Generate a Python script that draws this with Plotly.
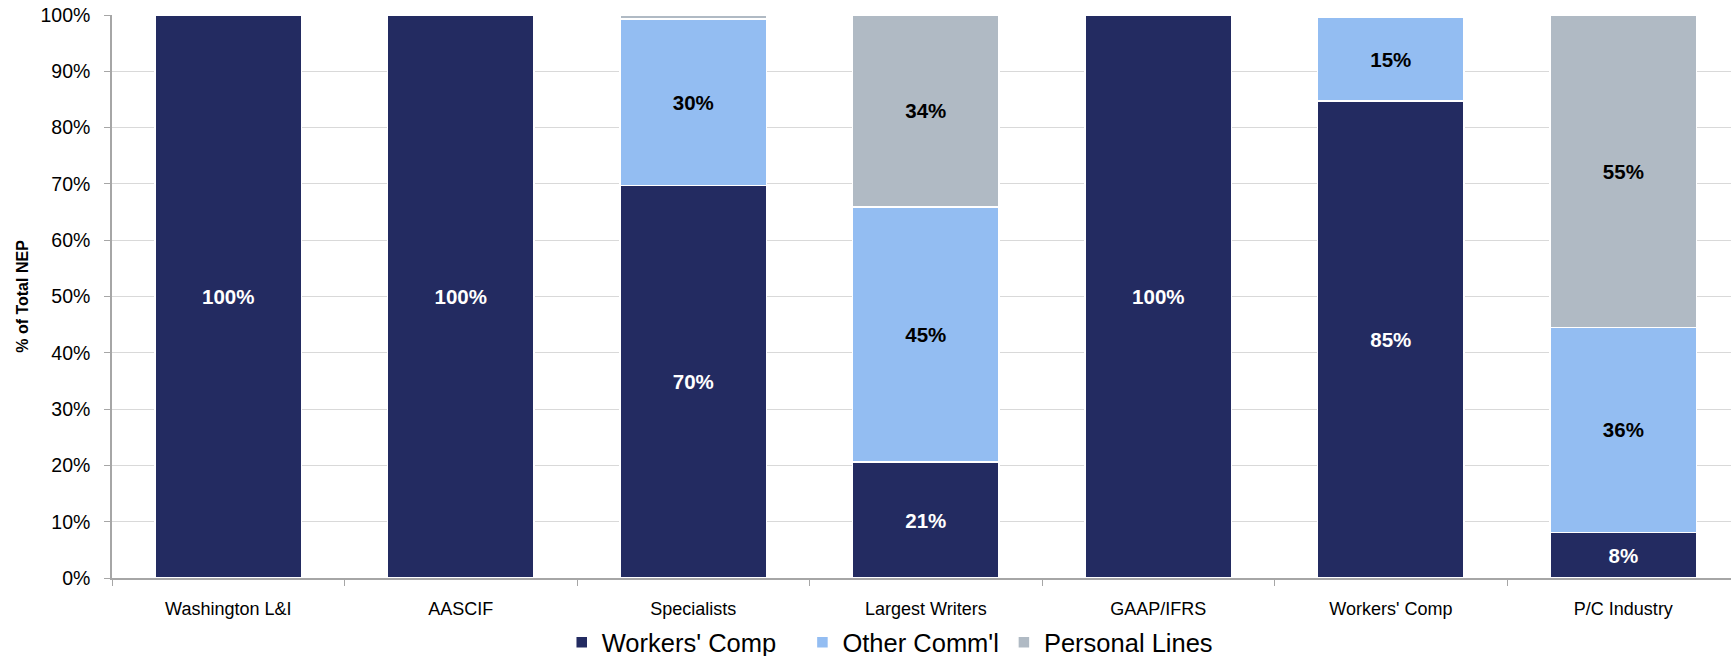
import plotly.graph_objects as go

# Share of total net earned premium by line of business
categories = ["Washington L&I", "AASCIF", "Specialists", "Largest Writers",
              "GAAP/IFRS", "Workers' Comp", "P/C Industry"]
workers_comp = [100.0, 100.0, 69.7, 20.6, 100.0, 84.7, 8.1]
other_comml = [0.0, 0.0, 29.6, 45.3, 0.0, 14.9, 36.4]
personal_lines = [0.0, 0.0, 0.7, 34.1, 0.0, 0.0, 55.4]
y_ticks = [0, 10, 20, 30, 40, 50, 60, 70, 80, 90, 100]

series = [
    ("Workers' Comp", workers_comp, "#232B61", "white"),
    ("Other Comm'l", other_comml, "#93BDF2", "black"),
    ("Personal Lines", personal_lines, "#B0BAC4", "black"),
]

FONT = "Liberation Sans, Arial, sans-serif"
NBSP = "\u00a0"
# extra spacing after each legend entry
legend_pad = [3, 0, 0]

fig = go.Figure()
for (name, vals, color, txtcolor), pad in zip(series, legend_pad):
    fig.add_trace(go.Bar(
        name=name + NBSP * pad,
        x=categories,
        y=vals,
        marker=dict(color=color, line=dict(color="white", width=1.5)),
        text=[f"{v:.0f}%" if v >= 5 else "" for v in vals],
        textposition="inside",
        insidetextanchor="middle",
        textangle=0,
        constraintext="none",
        textfont=dict(family=FONT, size=20.5, color=txtcolor, weight="bold"),
        hoverinfo="skip",
    ))

fig.update_layout(
    barmode="stack",
    bargap=0.37,
    width=1731,
    height=656,
    margin=dict(l=112, r=0, t=15, b=78, autoexpand=False),
    plot_bgcolor="white",
    paper_bgcolor="white",
    font=dict(family=FONT, color="black"),
    showlegend=True,
    legend=dict(
        orientation="h",
        xref="container", yref="container",
        x=0.514, xanchor="center",
        y=0.0205, yanchor="middle",
        font=dict(family=FONT, size=25.5, color="black"),
        traceorder="normal",
        itemwidth=30,
    ),
    xaxis=dict(
        type="category",
        range=[-0.5, 6.463],
        automargin=False,
        showgrid=False,
        showline=True,
        linecolor="#A6A6A6",
        linewidth=1.5,
        ticks="outside",
        tickson="boundaries",
        ticklen=6,
        tickcolor="#A6A6A6",
        ticklabelstandoff=14,
        tickfont=dict(family=FONT, size=18, color="black"),
    ),
    yaxis=dict(
        range=[0, 100],
        automargin=False,
        tickvals=y_ticks,
        ticktext=[f"{v}%" for v in y_ticks],
        showgrid=True,
        gridcolor="#D9D9D9",
        gridwidth=1.2,
        showline=True,
        linecolor="#A6A6A6",
        linewidth=1.5,
        ticks="outside",
        ticklen=6,
        tickcolor="#A6A6A6",
        ticklabelstandoff=10,
        tickfont=dict(family=FONT, size=19.5, color="black"),
        zeroline=False,
        title=dict(text="<b>% of Total NEP</b>",
                   font=dict(family=FONT, size=16, color="black"),
                   standoff=8),
    ),
)

fig.write_html("out.html")
